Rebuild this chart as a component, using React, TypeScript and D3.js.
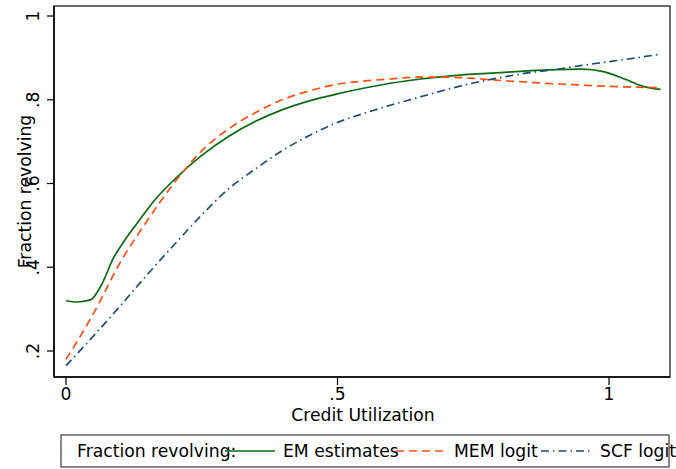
import React from "react";
import * as d3 from "d3";

const W = 676;
const H = 469;

const emX = [0, 0.02, 0.045, 0.065, 0.087, 0.11, 0.135, 0.165, 0.2, 0.25, 0.3, 0.35, 0.4, 0.45, 0.5, 0.55, 0.6, 0.65, 0.7, 0.75, 0.8, 0.85, 0.9, 0.95, 0.99, 1.03, 1.06, 1.08, 1.095];
const emY = [0.32, 0.317, 0.322, 0.357, 0.421, 0.468, 0.512, 0.563, 0.61, 0.667, 0.713, 0.749, 0.777, 0.798, 0.814, 0.828, 0.84, 0.849, 0.856, 0.861, 0.865, 0.869, 0.872, 0.873, 0.867, 0.849, 0.833, 0.827, 0.825];

const memX = [0, 0.05, 0.1, 0.15, 0.2, 0.25, 0.3, 0.35, 0.4, 0.45, 0.5, 0.55, 0.6, 0.65, 0.7, 0.75, 0.8, 0.85, 0.9, 0.95, 1.0, 1.05, 1.095];
const memY = [0.18, 0.288, 0.412, 0.512, 0.603, 0.678, 0.731, 0.77, 0.801, 0.822, 0.837, 0.845, 0.85, 0.854, 0.854, 0.851, 0.846, 0.842, 0.838, 0.835, 0.832, 0.83, 0.829];

const scfX = [0, 0.05, 0.1, 0.15, 0.2, 0.25, 0.3, 0.35, 0.4, 0.45, 0.5, 0.55, 0.6, 0.65, 0.7, 0.75, 0.8, 0.85, 0.9, 0.95, 1.0, 1.05, 1.095];
const scfY = [0.165, 0.235, 0.308, 0.383, 0.455, 0.525, 0.588, 0.636, 0.68, 0.716, 0.746, 0.768, 0.788, 0.806, 0.824, 0.84, 0.853, 0.864, 0.872, 0.882, 0.891, 0.9, 0.909];

const xTicks = [0, 0.5, 1];
const xTickLabels = ["0", ".5", "1"];
const yTicks = [0.2, 0.4, 0.6, 0.8, 1];
const yTickLabels = [".2", ".4", ".6", ".8", "1"];

const seriesNames = ["EM estimates", "MEM logit", "SCF logit"];
const legendTitle = "Fraction revolving:";
const xTitle = "Credit Utilization";
const yTitle = "Fraction revolving";

const FONT = "'DejaVu Sans', sans-serif";
const FS = 17.2;

export default function App() {
  const x = d3.scaleLinear().domain([-0.0221, 1.1123]).range([54, 670]);
  const y = d3.scaleLinear().domain([0.1379, 1.0239]).range([377, 6]);

  const line = d3
    .line<[number, number]>()
    .x((d) => x(d[0]))
    .y((d) => y(d[1]))
    .curve(d3.curveMonotoneX);

  const series = [
    { name: seriesNames[0], xs: emX, ys: emY, color: "#0b6b12", dash: undefined as string | undefined },
    { name: seriesNames[1], xs: memX, ys: memY, color: "#ff5014", dash: "8,5" },
    { name: seriesNames[2], xs: scfX, ys: scfY, color: "#1f4e79", dash: "8,4,1.5,4" },
  ];

  const legendItems = [
    { lx: 225, tx: 283 },
    { lx: 396, tx: 454 },
    { lx: 541, tx: 600 },
  ];

  return (
    <svg
      width={W}
      height={H}
      style={{ position: "absolute", left: 0, top: 0, background: "#fff" }}
      fontFamily={FONT}
    >
      <rect x={0} y={0} width={W} height={H} fill="#fff" />
      <rect x={54} y={6} width={616} height={371} fill="none" stroke="#3a3a3a" strokeWidth={1.5} />

      {series.map((s) => (
        <path
          key={s.name}
          d={line(s.xs.map((v, i) => [v, s.ys[i]] as [number, number])) || ""}
          fill="none"
          stroke={s.color}
          strokeWidth={1.7}
          strokeDasharray={s.dash}
        />
      ))}

      <line x1={54} x2={54} y1={6} y2={377} stroke="#000" strokeWidth={1.5} />
      <line x1={54} x2={670} y1={377} y2={377} stroke="#000" strokeWidth={1.5} />

      {xTicks.map((t, i) => (
        <g key={"xt" + i}>
          <line x1={x(t)} x2={x(t)} y1={377} y2={385} stroke="#000" strokeWidth={1.2} />
          <text x={x(t)} y={400} textAnchor="middle" fontSize={FS} fill="#000">
            {xTickLabels[i]}
          </text>
        </g>
      ))}

      {yTicks.map((t, i) => (
        <g key={"yt" + i}>
          <line x1={47} x2={54} y1={y(t)} y2={y(t)} stroke="#000" strokeWidth={1.2} />
          <text
            transform={`translate(38.5,${y(t)}) rotate(-90)`}
            textAnchor="middle"
            fontSize={FS}
            fill="#000"
          >
            {yTickLabels[i]}
          </text>
        </g>
      ))}

      <text x={363} y={421} textAnchor="middle" fontSize={FS} fill="#000">
        {xTitle}
      </text>
      <text
        transform={`translate(31,${(6 + 377) / 2}) rotate(-90)`}
        textAnchor="middle"
        fontSize={FS}
        fill="#000"
      >
        {yTitle}
      </text>

      <rect x={61} y={435} width={608} height={32} fill="#fff" stroke="#3a3a3a" strokeWidth={1.2} />
      <text x={77} y={457} fontSize={FS} fill="#000">
        {legendTitle}
      </text>
      {series.map((s, i) => (
        <g key={"lg" + i}>
          <line
            x1={legendItems[i].lx}
            x2={legendItems[i].lx + 50}
            y1={451}
            y2={451}
            stroke={s.color}
            strokeWidth={1.7}
            strokeDasharray={s.dash}
          />
          <text x={legendItems[i].tx} y={457} fontSize={FS} fill="#000">
            {s.name}
          </text>
        </g>
      ))}
    </svg>
  );
}
